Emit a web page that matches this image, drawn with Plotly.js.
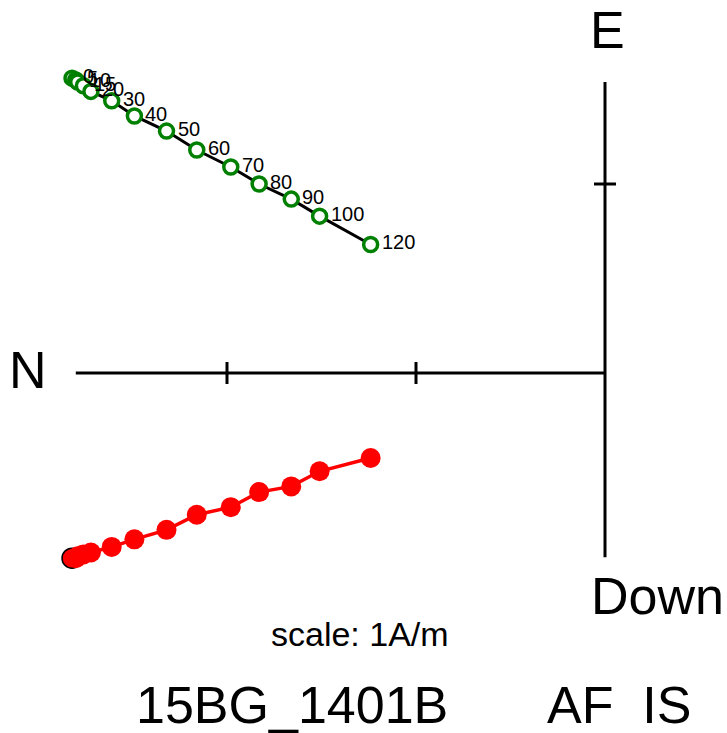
<!DOCTYPE html>
<html>
<head>
<meta charset="utf-8">
<script src="https://cdn.plot.ly/plotly-3.0.1.min.js"></script>
<style>html,body{margin:0;padding:0;background:#fff;}#chart{width:727px;height:733px;}</style>
</head>
<body>
<div id="chart"></div>
<script>
// AF demagnetization steps (mT)
var steps = [0, 5, 10, 15, 20, 30, 40, 50, 60, 70, 80, 90, 100, 120];
// magnetization components (A/m)
var north = [2.82, 2.80, 2.79, 2.76, 2.72, 2.61, 2.49, 2.32, 2.16, 1.98, 1.83, 1.66, 1.51, 1.24];
var east  = [1.56, 1.55, 1.54, 1.52, 1.49, 1.44, 1.36, 1.28, 1.18, 1.09, 1.00, 0.92, 0.83, 0.68];
var down  = [0.98, 0.98, 0.97, 0.96, 0.95, 0.92, 0.88, 0.83, 0.75, 0.71, 0.63, 0.60, 0.52, 0.45];
var stepLabels = steps.map(String);

var FONT = "Liberation Sans, Arial, Helvetica, sans-serif";
var S = 189; // px per A/m
var tick = 11 / S;

var horiz = {
  x: north, y: east, type: 'scatter', mode: 'lines+markers',
  line: {color: 'black', width: 3},
  marker: {symbol: 'circle', size: 14, color: 'white', line: {color: 'green', width: 3.5}},
  cliponaxis: false, hoverinfo: 'none'
};
var vert = {
  x: north, y: down.map(function (d) { return -d; }), type: 'scatter', mode: 'lines+markers',
  line: {color: 'red', width: 3.5},
  marker: {symbol: 'circle', size: 20, color: 'red',
    line: {color: steps.map(function (s, i) { return i === 0 ? 'black' : 'red'; }),
           width: steps.map(function (s, i) { return i === 0 ? 1.5 : 0; })}},
  cliponaxis: false, hoverinfo: 'none'
};

var axN = 2.80, axE = 1.54, axD = -0.975;
var shapes = [
  {type: 'line', xref: 'x', yref: 'y', x0: axN, x1: 0, y0: 0, y1: 0, line: {color: 'black', width: 3}},
  {type: 'line', xref: 'x', yref: 'y', x0: 0, x1: 0, y0: axE, y1: axD, line: {color: 'black', width: 3}},
  {type: 'line', xref: 'x', yref: 'y', x0: 1, x1: 1, y0: -tick, y1: tick, line: {color: 'black', width: 3}},
  {type: 'line', xref: 'x', yref: 'y', x0: 2, x1: 2, y0: -tick, y1: tick, line: {color: 'black', width: 3}},
  {type: 'line', xref: 'x', yref: 'y', x0: -tick, x1: tick, y0: 1, y1: 1, line: {color: 'black', width: 3}}
];

function ann(text, x, y, size, xanchor) {
  return {text: text, xref: 'paper', yref: 'paper', x: x / 727, y: 1 - y / 733,
    xanchor: xanchor || 'center', yanchor: 'middle', showarrow: false,
    font: {family: FONT, size: size, color: 'black'}};
}

var stepAnns = steps.map(function (s, i) {
  return {text: stepLabels[i], xref: 'x', yref: 'y', x: north[i], y: east[i],
    xanchor: 'left', yanchor: 'middle', xshift: 9, yshift: 2, showarrow: false,
    font: {family: FONT, size: 20, color: 'black'}};
});

var layout = {
  width: 727, height: 733,
  margin: {l: 0, r: 0, t: 0, b: 0},
  paper_bgcolor: 'white', plot_bgcolor: 'white',
  showlegend: false,
  xaxis: {range: [605 / S, -122 / S], visible: false, fixedrange: true},
  yaxis: {range: [-360 / S, 373 / S], visible: false, fixedrange: true},
  shapes: shapes,
  annotations: stepAnns.concat([
    ann('N', 28, 370, 52),
    ann('E', 607, 30, 52),
    ann('Down', 589, 596, 52, 'left'),
    ann('scale: 1A/m', 360, 634, 34),
    ann('15BG_1401B', 292, 705, 52),
    ann('AF  IS', 619, 705, 52)
  ])
};

Plotly.newPlot('chart', [vert, horiz], layout, {staticPlot: true, displayModeBar: false});
</script>
</body>
</html>
